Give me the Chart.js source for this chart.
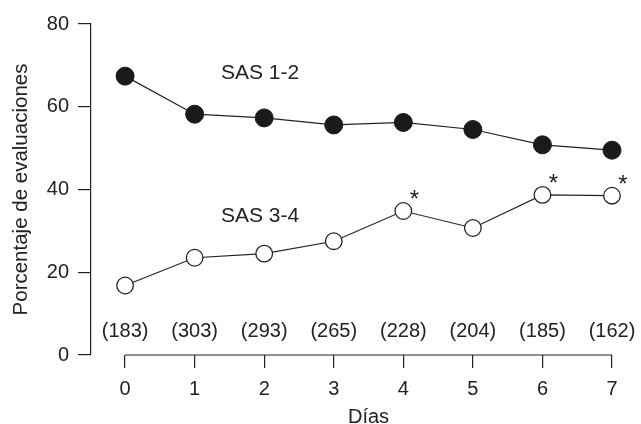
<!DOCTYPE html>
<html>
<head>
<meta charset="utf-8">
<script src="https://cdn.jsdelivr.net/npm/chart.js@4"></script>
<style>
  html, body { margin: 0; padding: 0; background: #fff; }
  #wrap { width: 641px; height: 424px; }
</style>
</head>
<body>
<div id="wrap"><canvas id="chart"></canvas></div>
<script>
// Values
const days = [0, 1, 2, 3, 4, 5, 6, 7];
const sas12 = [67.4, 58.2, 57.3, 55.6, 56.2, 54.5, 50.8, 49.5];
const sas34 = [16.8, 23.5, 24.5, 27.5, 34.8, 30.7, 38.7, 38.5];
const counts = ["(183)", "(303)", "(293)", "(265)", "(228)", "(204)", "(185)", "(162)"];
const significant = [false, false, false, false, true, false, true, true];
const yTicks = [0, 20, 40, 60, 80];

const ink = "#222";
const fontFamily = "'Liberation Sans', Arial, Helvetica, sans-serif";
Chart.defaults.font.family = fontFamily;
Chart.defaults.color = ink;

// Extra texts: axis line, sample sizes, group labels, asterisks, x title
const annotations = {
  id: "annotations",
  afterDatasetsDraw(chart) {
    const ctx = chart.ctx;
    const xs = chart.scales.x;
    const ys = chart.scales.y;
    const y0 = ys.getPixelForValue(0);
    ctx.save();

    // detached x axis line
    ctx.strokeStyle = ink;
    ctx.lineWidth = 1.2;
    ctx.beginPath();
    ctx.moveTo(xs.getPixelForValue(days[0]), y0);
    ctx.lineTo(xs.getPixelForValue(days[days.length - 1]), y0);
    ctx.stroke();

    ctx.fillStyle = ink;
    ctx.font = "20px " + fontFamily;
    ctx.textAlign = "center";
    ctx.textBaseline = "middle";

    // sample sizes
    days.forEach((d, i) => {
      ctx.fillText(counts[i], xs.getPixelForValue(d), y0 - 24);
    });

    // group labels
    ctx.font = "21px " + fontFamily;
    ctx.fillText("SAS 1-2", xs.getPixelForValue(1.94), ys.getPixelForValue(68.2));
    ctx.fillText("SAS 3-4", xs.getPixelForValue(1.94), ys.getPixelForValue(33.6));

    // asterisks
    ctx.font = "24px " + fontFamily;
    ctx.textBaseline = "alphabetic";
    days.forEach((d, i) => {
      if (!significant[i]) return;
      ctx.fillText("*", xs.getPixelForValue(d) + 11, ys.getPixelForValue(sas34[i]) - 17 + 13);
    });

    // x title, centred under the day range
    ctx.font = "20px " + fontFamily;
    ctx.textBaseline = "middle";
    ctx.fillText("Días", xs.getPixelForValue(3.5), chart.height - 7);
    ctx.restore();
  }
};

const ctx = document.getElementById("chart").getContext("2d");
new Chart(ctx, {
  type: "line",
  data: {
    datasets: [
      {
        label: "SAS 1-2",
        data: days.map((d, i) => ({ x: d, y: sas12[i] })),
        borderColor: ink,
        borderWidth: 1.2,
        backgroundColor: "#1a1a1a",
        pointBackgroundColor: "#1a1a1a",
        pointBorderColor: "#1a1a1a",
        pointRadius: 9,
        pointBorderWidth: 1,
        clip: false
      },
      {
        label: "SAS 3-4",
        data: days.map((d, i) => ({ x: d, y: sas34[i] })),
        borderColor: ink,
        borderWidth: 1.2,
        pointBackgroundColor: "#fff",
        pointBorderColor: ink,
        pointRadius: 8.3,
        pointBorderWidth: 1.3,
        clip: false
      }
    ]
  },
  options: {
    responsive: true,
    maintainAspectRatio: false,
    animation: false,
    layout: { padding: { top: 24, right: 29, left: 0, bottom: 0 } },
    plugins: {
      legend: { display: false },
      tooltip: { enabled: false }
    },
    scales: {
      x: {
        type: "linear",
        min: -0.49,
        max: 7,
        afterBuildTicks: s => { s.ticks = days.map(v => ({ value: v })); },
        afterFit: s => { s.height = 69; },
        border: { display: false },
        grid: { drawOnChartArea: false, drawTicks: true, tickLength: 13, color: ink, lineWidth: 1.2 },
        ticks: { font: { size: 20 }, color: ink, padding: 9, maxRotation: 0 }
      },
      y: {
        min: 0,
        max: 80,
        afterBuildTicks: s => { s.ticks = yTicks.map(v => ({ value: v })); },
        afterFit: s => { s.width = 91; },
        border: { display: true, color: ink, width: 1.2 },
        grid: { drawOnChartArea: false, drawTicks: true, tickLength: 13, color: ink, lineWidth: 1.2 },
        ticks: { font: { size: 20 }, color: ink, padding: 9 },
        title: {
          display: true,
          text: "Porcentaje de evaluaciones",
          font: { size: 20.5 },
          color: ink,
          padding: { top: 9, bottom: 0 }
        }
      }
    }
  },
  plugins: [annotations]
});
</script>
</body>
</html>
